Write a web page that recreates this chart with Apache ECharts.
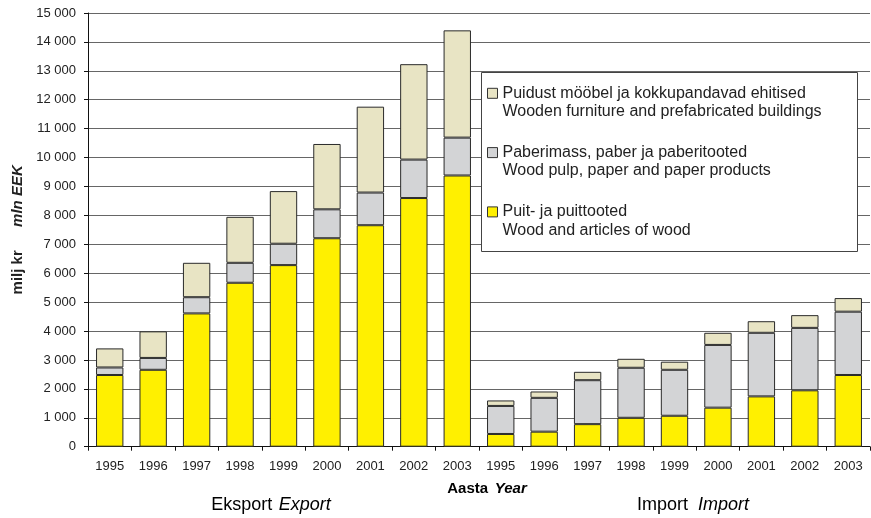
<!DOCTYPE html>
<html>
<head>
<meta charset="utf-8">
<script src="https://cdn.jsdelivr.net/npm/echarts@6/dist/echarts.min.js"></script>
<style>
html,body{margin:0;padding:0;background:#fff;}
#c{width:871px;height:518px;}
</style>
</head>
<body>
<div id="c"></div>
<script>
// ---- data ----
var years = ['1995','1996','1997','1998','1999','2000','2001','2002','2003'];
var flows = ['Eksport', 'Import'];
var yTicks = [0,1000,2000,3000,4000,5000,6000,7000,8000,9000,10000,11000,12000,13000,14000,15000];

var seriesNamesEt = ['Puit- ja puittooted', 'Paberimass, paber ja paberitooted', 'Puidust mööbel ja kokkupandavad ehitised'];
var seriesNamesEn = ['Wood and articles of wood', 'Wood pulp, paper and paper products', 'Wooden furniture and prefabricated buildings'];

// Export (milj kr)
var exportWood      = [2480, 2660, 4610, 5670, 6280, 7210, 7660, 8600, 9380];
var exportPaper     = [260,  410,  560,  690,  740,  1000, 1130, 1330, 1310];
var exportFurniture = [660,  920,  1190, 1590, 1820, 2260, 2970, 3300, 3710];
// Import (milj kr)
var importWood      = [440,  520,  780,  1000, 1070, 1350, 1740, 1950, 2480];
var importPaper     = [970,  1170, 1520, 1730, 1590, 2170, 2200, 2160, 2190];
var importFurniture = [190,  220,  290,  310,  280,  420,  400,  440,  470];

// ---- build ----
var categories = [];
flows.forEach(function (f) { years.forEach(function (y) { categories.push(f + '|' + y); }); });
var woodData = exportWood.concat(importWood);
var paperData = exportPaper.concat(importPaper);
var furnData = exportFurniture.concat(importFurniture);
var colors = ['#FFF000', '#D3D4D6', '#E8E4C4'];
var FONT = '"Liberation Sans", Arial, sans-serif';
var LH = 18.4;

function mkSeries(i, data) {
  return {
    name: seriesNamesEt[i],
    type: 'bar',
    stack: 'total',
    data: data,
    barCategoryGap: '37%',
    itemStyle: { color: colors[i], borderColor: '#2a2a2a', borderWidth: 1 },
    emphasis: { disabled: true },
    animation: false
  };
}

var chart = echarts.init(document.getElementById('c'), null, { renderer: 'canvas' });
chart.setOption({
  backgroundColor: '#fff',
  animation: false,
  textStyle: { fontFamily: FONT },
  grid: { left: 88, right: 1, top: 13, bottom: 71.3, containLabel: false },
  legend: {
    data: [seriesNamesEt[2], seriesNamesEt[1], seriesNamesEt[0]],
    orient: 'vertical',
    left: 487,
    top: 65.7,
    z: 10,
    itemWidth: 10,
    itemHeight: 10,
    itemGap: 4.1,
    padding: 0,
    selectedMode: false,
    icon: 'rect',
    itemStyle: { borderColor: '#333', borderWidth: 1 },
    formatter: function (name) {
      var i = seriesNamesEt.indexOf(name);
      return '\n' + name + '\n' + seriesNamesEn[i];
    },
    textStyle: {
      fontFamily: FONT,
      fontSize: 16,
      color: '#222',
      lineHeight: LH
    }
  },
  xAxis: {
    type: 'category',
    data: categories,
    axisLine: { lineStyle: { color: '#111', width: 1 } },
    axisTick: { show: true, length: 4, lineStyle: { color: '#111' } },
    axisLabel: {
      margin: 13,
      fontSize: 13,
      color: '#222',
      fontFamily: FONT,
      interval: 0,
      formatter: function (v) { return v.split('|')[1]; }
    }
  },
  yAxis: {
    type: 'value',
    min: yTicks[0],
    max: yTicks[yTicks.length - 1],
    interval: 1000,
    axisLine: { show: true, lineStyle: { color: '#111', width: 1 } },
    axisTick: { show: true, length: 4, lineStyle: { color: '#111' } },
    axisLabel: {
      margin: 12,
      fontSize: 13,
      color: '#222',
      fontFamily: FONT,
      formatter: function (v) { return String(v).replace(/\B(?=(\d{3})+(?!\d))/g, ' '); }
    },
    splitLine: { show: true, lineStyle: { color: '#666', width: 1 } },
    name: '{a|milj kr}       {b|mln EEK}',
    nameLocation: 'middle',
    nameRotate: 90,
    nameGap: 62,
    nameTextStyle: {
      rich: {
        a: { fontFamily: FONT, fontSize: 15, fontWeight: 'bold', color: '#222' },
        b: { fontFamily: FONT, fontSize: 15, fontWeight: 'bold', fontStyle: 'italic', color: '#222' }
      }
    }
  },
  series: [mkSeries(0, woodData), mkSeries(1, paperData), mkSeries(2, furnData)],
  graphic: [
    {
      type: 'rect', silent: true, z: 5,
      shape: { x: 481.5, y: 72.5, width: 376, height: 179 },
      style: { fill: '#fff', stroke: '#444', lineWidth: 1 }
    },
    {
      type: 'text', silent: true, x: 271, y: 505,
      style: {
        align: 'center', verticalAlign: 'middle',
        text: '{a|Eksport}  {b|Export}',
        rich: {
          a: { fontFamily: FONT, fontSize: 18, color: '#222' },
          b: { fontFamily: FONT, fontSize: 18, fontStyle: 'italic', color: '#222' }
        }
      }
    },
    {
      type: 'text', silent: true, x: 487, y: 489,
      style: {
        align: 'center', verticalAlign: 'middle',
        text: '{a|Aasta}  {b|Year}',
        rich: {
          a: { fontFamily: FONT, fontSize: 15, fontWeight: 'bold', color: '#222' },
          b: { fontFamily: FONT, fontSize: 15, fontWeight: 'bold', fontStyle: 'italic', color: '#222' }
        }
      }
    },
    {
      type: 'text', silent: true, x: 693, y: 505,
      style: {
        align: 'center', verticalAlign: 'middle',
        text: '{a|Import}   {b|Import}',
        rich: {
          a: { fontFamily: FONT, fontSize: 18, color: '#222' },
          b: { fontFamily: FONT, fontSize: 18, fontStyle: 'italic', color: '#222' }
        }
      }
    }
  ]
});
</script>
</body>
</html>
